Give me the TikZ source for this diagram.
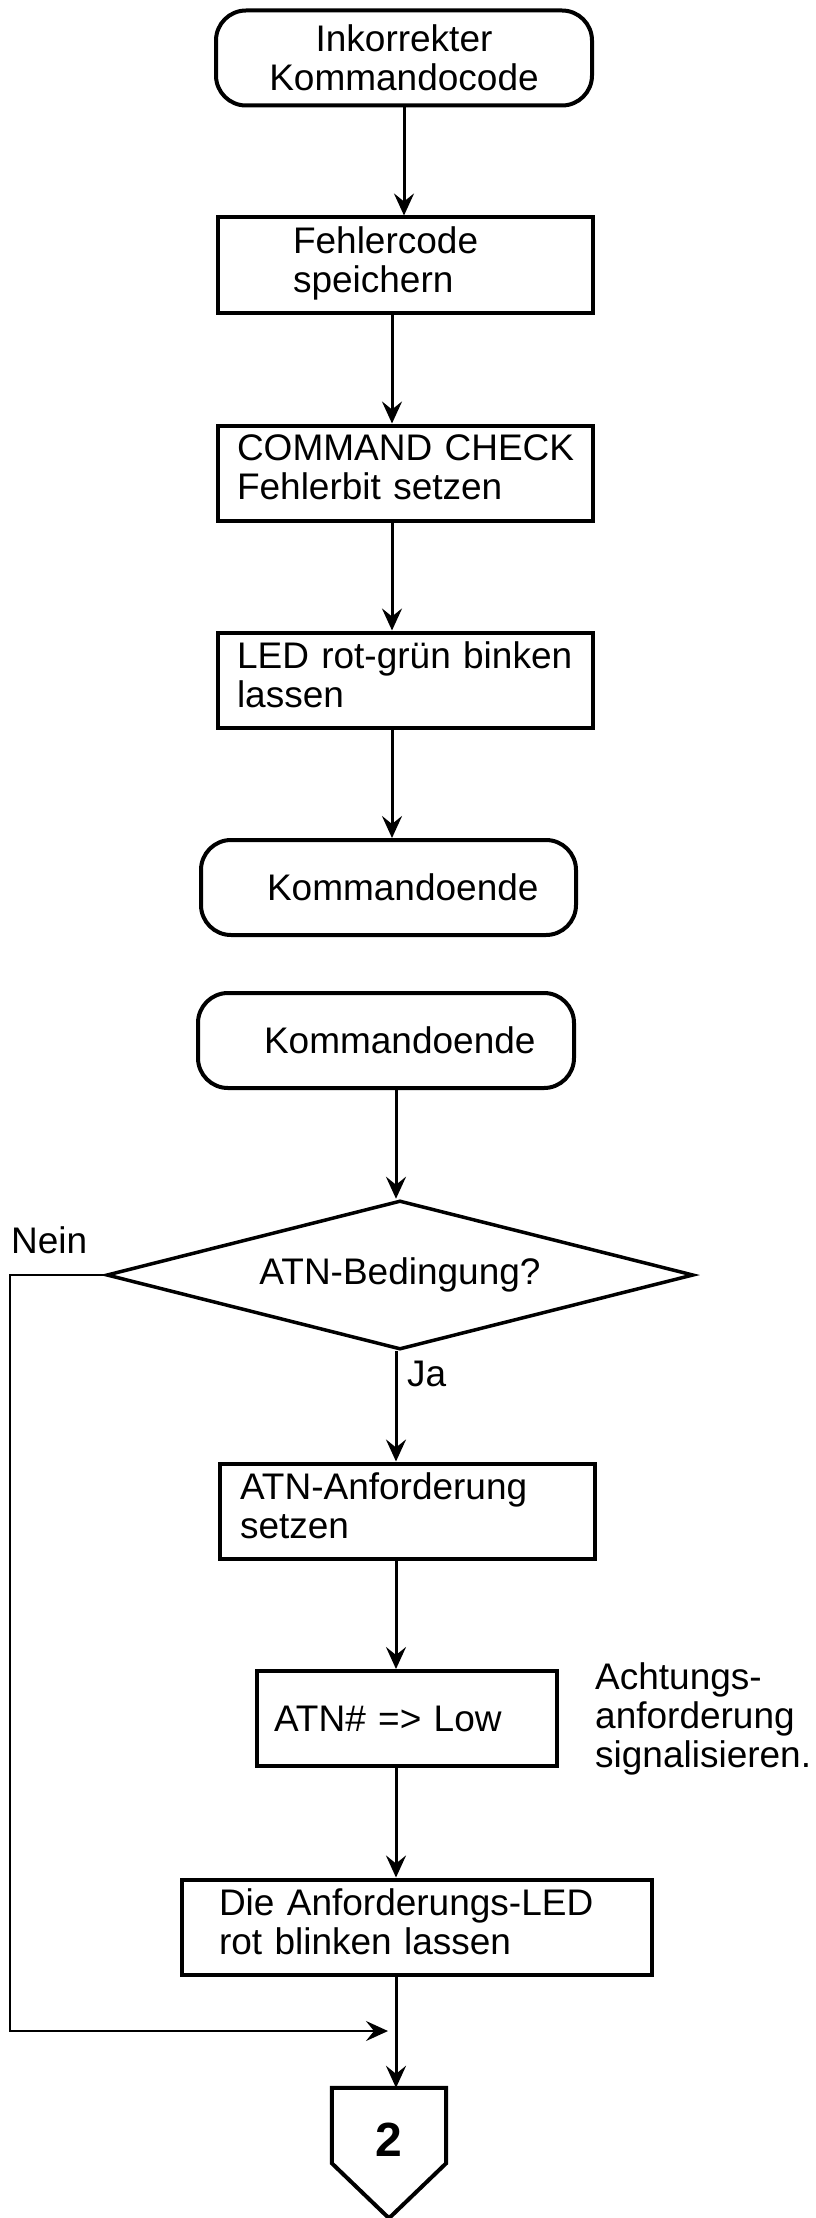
\documentclass[tikz,border=0pt]{standalone}
\usepackage{fontspec}
\setmainfont{Liberation Sans}
\usetikzlibrary{positioning, arrows.meta, shapes.geometric}
\tikzset{
    stepbox/.style={rectangle, draw=black, line width=4pt, minimum height=95pt, inner ysep=0pt, align=left, font=\fontsize{37}{39}\selectfont},
    multi/.style={execute at end node=\strut},
    termbox/.style={rectangle, rounded corners=30pt, draw=black, line width=4pt, minimum height=95pt, inner ysep=0pt, font=\fontsize{37}{39}\selectfont},
    decision/.style={diamond, draw=black, line width=3.5pt, minimum width=587pt, minimum height=149pt, aspect=4, inner sep=0pt, font=\fontsize{37}{39}\selectfont},
    offpage/.style={rectangle, minimum width=114pt, minimum height=104pt, inner sep=0pt, font=\fontsize{48}{50}\selectfont\bfseries},
    pentline/.style={draw=black, line width=4pt, line join=miter},
    lbl/.style={font=\fontsize{37}{39}\selectfont, inner sep=0pt},
    arr/.style={-{Stealth[length=22pt, width=20pt, inset=8pt]}, line width=3pt},
    backarr/.style={-{Stealth[length=22pt, width=20pt, inset=8pt]}, line width=2.2pt}
}
\begin{document}
\begin{tikzpicture}[x=1pt, y=-1pt]
    \useasboundingbox (0,0) rectangle (816,2218);
    % first part: wrong command
    \node[termbox, minimum width=376pt, align=center] (start) at (404,58) {Inkorrekter\\Kommandocode};
    \node[stepbox, multi, minimum width=375pt, inner xsep=75pt, text width=225pt] (save) at (405.5,265) {Fehlercode\\speichern};
    \node[stepbox, multi, minimum width=375pt, inner xsep=19pt, text width=337pt] (cmd) at (405.5,473) {\mbox{COMMAND CHECK}\\Fehlerbit setzen};
    \node[stepbox, multi, minimum width=375pt, inner xsep=19pt, text width=337pt] (led) at (405.5,680) {\mbox{LED rot-grün binken}\\lassen};
    \node[termbox, minimum width=375pt, inner xsep=66pt, text width=243pt, align=left] (end1) at (388.5,887.5) {\mbox{Kommandoende}};

    % second part: end of command
    \node[termbox, minimum width=376pt, inner xsep=66pt, text width=244pt, align=left] (end2) at (386,1040.5) {\mbox{Kommandoende}};
    \node[decision] (atn) at (400,1275) {ATN-Bedingung?};
    \node[lbl, anchor=base west] (no) at (11,1253) {Nein};
    \node[lbl, anchor=base west] (yes) at (407,1386) {Ja};
    \node[stepbox, multi, minimum width=375pt, inner xsep=20pt, text width=335pt] (req) at (407.5,1511) {ATN-Anforderung\\setzen};
    \node[stepbox, minimum width=300pt, inner xsep=17pt, text width=266pt] (low) at (407,1718.5) {ATN\# => Low};
    \node[lbl, anchor=west, align=left] (hint) at (595,1719) {Achtungs-\\anforderung\\signalisieren.};
    \node[stepbox, multi, minimum width=470pt, inner xsep=37pt, text width=396pt] (blink) at (417,1927) {\mbox{Die Anforderungs-LED}\\rot blinken lassen};

    % off-page connector
    \node[offpage] (conn) at (389,2140) {2};
    \draw[pentline] (conn.north west) -- (conn.north east) -- ([yshift=29pt]conn.south east) -- ([yshift=-26pt]conn.south) -- ([yshift=29pt]conn.south west) -- cycle;

    % Arrows
    \coordinate (spine) at (392,0);
    \coordinate (spine2) at (396,0);
    \coordinate (rail) at (10,2031);
    \coordinate (merge) at (388,2031);
    \draw[arr] (start.south) -- (start.south |- save.north);
    \draw[arr] (save.south -| spine) -- (cmd.north -| spine);
    \draw[arr] (cmd.south -| spine) -- (led.north -| spine);
    \draw[arr] (led.south -| spine) -- (end1.north -| spine);
    \draw[arr] (end2.south -| spine2) -- (atn.north -| spine2);
    \draw[arr] (atn.south -| spine2) -- (req.north -| spine2);
    \draw[arr] (req.south -| spine2) -- (low.north -| spine2);
    \draw[arr] (low.south -| spine2) -- (blink.north -| spine2);
    \draw[arr] (blink.south -| spine2) -- (conn.north -| spine2);
    \draw[backarr] (atn.west) -| (rail) -- (merge);
\end{tikzpicture}
\end{document}
